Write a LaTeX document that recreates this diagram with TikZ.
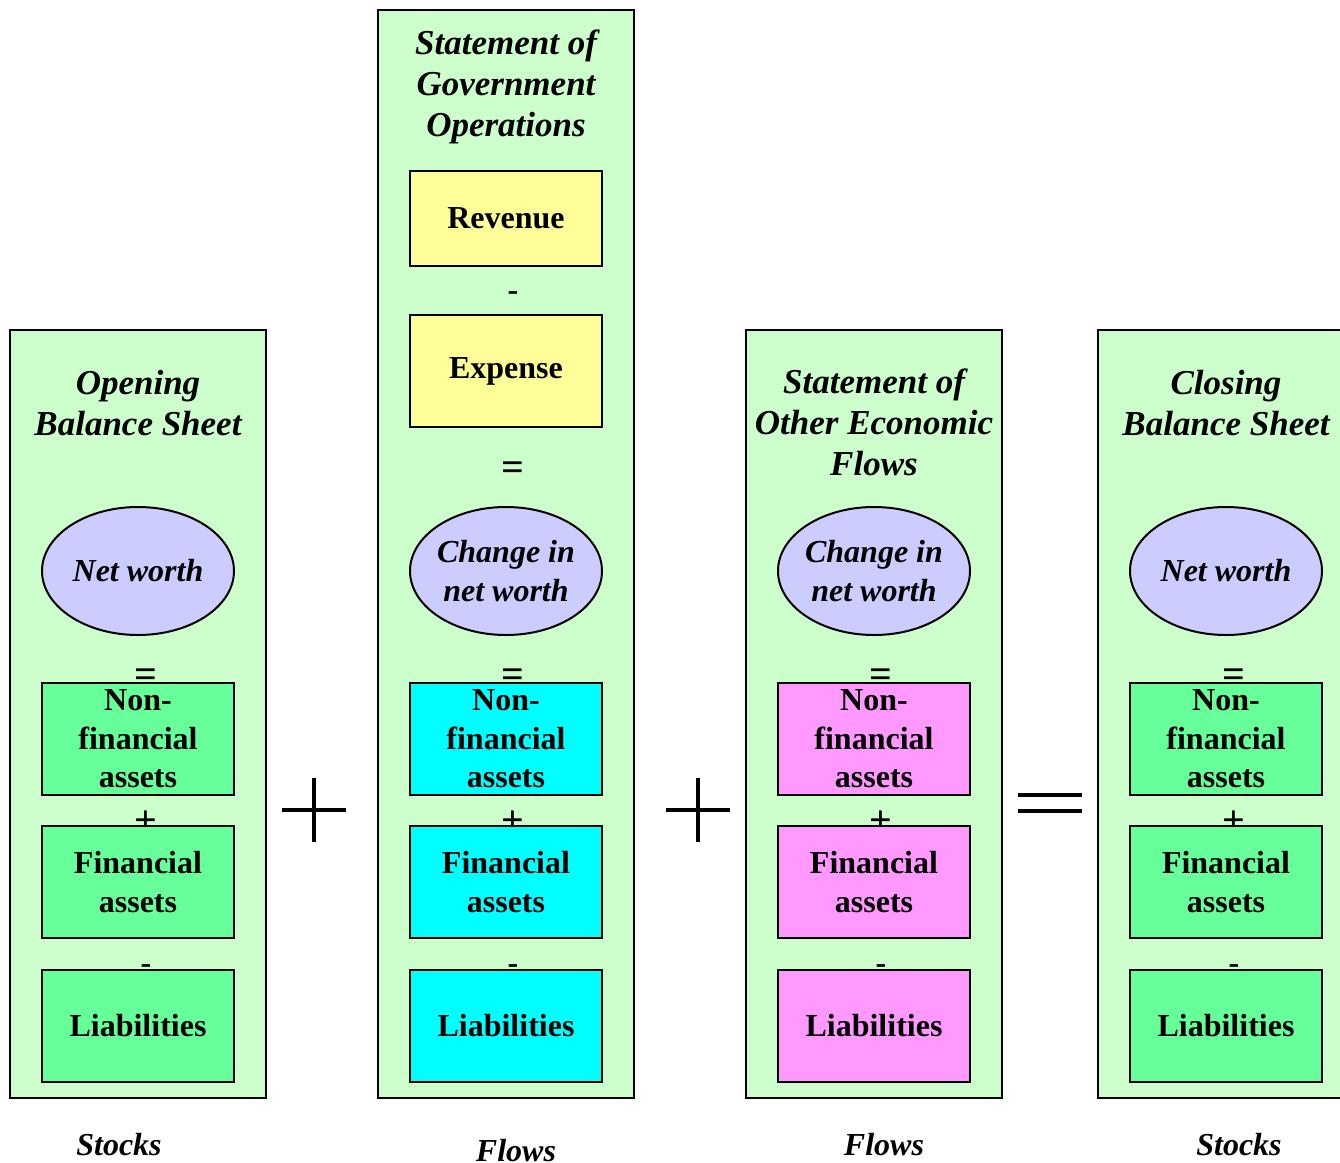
\documentclass[tikz,border=0pt]{standalone}
\usepackage{fontspec}
\setmainfont{Liberation Serif}
\usetikzlibrary{shapes.geometric}

\definecolor{panelgreen}{HTML}{CCFFCC}
\definecolor{stockgreen}{HTML}{66FF99}
\definecolor{flowcyan}{HTML}{00FFFF}
\definecolor{flowpink}{HTML}{FF99FF}
\definecolor{revyellow}{HTML}{FFFF99}
\definecolor{worthblue}{HTML}{CCCCFF}

\begin{document}
\begin{tikzpicture}[x=0.5pt,y=-0.5pt,
   panel/.style={draw,line width=1pt,fill=panelgreen,minimum width=128pt,inner sep=0pt},
   item/.style={draw,line width=1pt,minimum width=96pt,minimum height=56pt,inner sep=0pt,
                text width=94pt,align=center,font=\fontsize{16}{19.25}\selectfont\bfseries},
   oval/.style={ellipse,draw,line width=1pt,fill=worthblue,minimum width=96pt,minimum height=64pt,inner sep=0pt},
   ovaltext/.style={align=center,inner sep=0pt,font=\fontsize{16}{19.5}\selectfont\bfseries\itshape},
   heading/.style={align=center,inner sep=0pt,font=\fontsize{17.5}{20.5}\selectfont\bfseries\itshape},
   sign/.style={inner sep=0pt,font=\fontsize{20}{20}\selectfont\bfseries},
   minus/.style={inner sep=0pt,font=\fontsize{16}{16}\selectfont\bfseries},
   foot/.style={inner sep=0pt,font=\fontsize{16}{16}\selectfont\bfseries\itshape},
   bigop/.style={line width=1.8pt}]
   \useasboundingbox (0,0) rectangle (1340,1163);
   \clip (0,0) rectangle (1340,1163);

   % opening balance sheet
   \node[panel,minimum height=384pt] (open) at (138,714) {};
   \node[heading] (openhead) at (138,403) {Opening\\Balance Sheet};
   \node[oval,label={[ovaltext]center:Net worth}] (opennw) at (138,571) {};
   \node[sign] (openeq) at (146,678) {=};
   \node[item,fill=stockgreen] (opennfa) at (138,739) {Non-\\financial\\assets};
   \node[sign] (openplus) at (146,822) {+};
   \node[item,fill=stockgreen] (openfa) at (138,882) {Financial\\assets};
   \node[minus] (openminus) at (146,969) {-};
   \node[item,fill=stockgreen] (openli) at (138,1026) {Liabilities};
   \node[foot] (openfoot) at (119,1145) {Stocks};

   % statement of government operations
   \node[panel,minimum height=544pt] (gov) at (506,554) {};
   \node[heading] (govhead) at (506,87) {Statement of\\Government\\Operations};
   \node[item,fill=revyellow,minimum height=47.5pt] (govrev) at (506,218) {Revenue};
   \node[minus] (govminus) at (513,296) {-};
   \node[item,fill=revyellow] (govexp) at (506,371) {Expense};
   \node[sign] (goveqtop) at (513,471) {=};
   \node[oval,label={[ovaltext]center:Change in\\net worth}] (govnw) at (506,571) {};
   \node[sign] (goveq) at (513,678) {=};
   \node[item,fill=flowcyan] (govnfa) at (506,739) {Non-\\financial\\assets};
   \node[sign] (govplus) at (513,822) {+};
   \node[item,fill=flowcyan] (govfa) at (506,882) {Financial\\assets};
   \node[minus] (govminus2) at (513,969) {-};
   \node[item,fill=flowcyan] (govli) at (506,1026) {Liabilities};
   \node[foot] (govfoot) at (516,1151) {Flows};

   % statement of other economic flows
   \node[panel,minimum height=384pt] (oef) at (874,714) {};
   \node[heading] (oefhead) at (874,422) {Statement of\\Other Economic\\Flows};
   \node[oval,label={[ovaltext]center:Change in\\net worth}] (oefnw) at (874,571) {};
   \node[sign] (oefeq) at (881,678) {=};
   \node[item,fill=flowpink] (oefnfa) at (874,739) {Non-\\financial\\assets};
   \node[sign] (oefplus) at (881,822) {+};
   \node[item,fill=flowpink] (oeffa) at (874,882) {Financial\\assets};
   \node[minus] (oefminus) at (881,969) {-};
   \node[item,fill=flowpink] (oefli) at (874,1026) {Liabilities};
   \node[foot] (oeffoot) at (884,1145) {Flows};

   % closing balance sheet
   \node[panel,minimum height=384pt] (close) at (1226,714) {};
   \node[heading] (closehead) at (1226,403) {Closing\\Balance Sheet};
   \node[oval,label={[ovaltext]center:Net worth}] (closenw) at (1226,571) {};
   \node[sign] (closeeq) at (1234,678) {=};
   \node[item,fill=stockgreen] (closenfa) at (1226,739) {Non-\\financial\\assets};
   \node[sign] (closeplus) at (1234,822) {+};
   \node[item,fill=stockgreen] (closefa) at (1226,882) {Financial\\assets};
   \node[minus] (closeminus) at (1234,969) {-};
   \node[item,fill=stockgreen] (closeli) at (1226,1026) {Liabilities};
   \node[foot] (closefoot) at (1239,1145) {Stocks};

   % big operators between the panels
   \draw[bigop] (282,810) -- (346,810) (314,778) -- (314,842);
   \draw[bigop] (666,810) -- (730,810) (698,778) -- (698,842);
   \draw[bigop] (1018,795) -- (1082,795) (1018,811) -- (1082,811);
\end{tikzpicture}
\end{document}
